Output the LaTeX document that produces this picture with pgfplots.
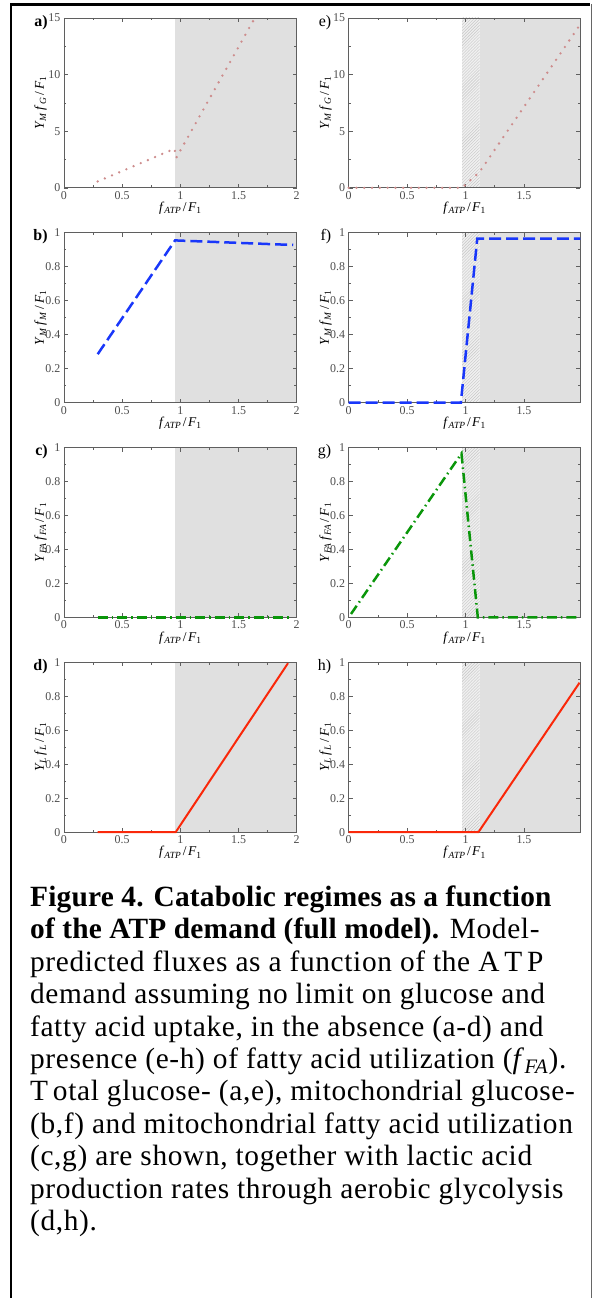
\documentclass[border=0pt]{standalone}
\usepackage{pgfplots}
\pgfplotsset{compat=1.18}
\usetikzlibrary{patterns}
\usepackage{fontspec}
\setmainfont{Liberation Serif}
\newfontfamily\capfont[LetterSpace=2.2]{Liberation Serif}
\newcommand{\bfcap}[1]{{\addfontfeatures{LetterSpace=0.7}\bfseries #1}}

\definecolor{shade}{RGB}{224,224,224}
\definecolor{hatchbg}{RGB}{240,240,240}
\definecolor{dotred}{RGB}{205,140,140}
\definecolor{dashblue}{RGB}{25,55,250}
\definecolor{ddgreen}{RGB}{10,150,10}
\definecolor{solidred}{RGB}{250,40,10}
\definecolor{axgray}{RGB}{95,95,95}

\newcommand{\ylab}[4]{\textit{#1}\textsubscript{\textit{#2}}\,\textit{#3}\textsubscript{\textit{#4}}\,/\,\textit{F}\textsubscript{1}}
\newcommand{\xlab}{\textit{f}\textsubscript{\textit{ATP}}\kern1.5pt/\kern1.5pt\textit{F}\textsubscript{1}}

\tikzset{
  tagL/.style={anchor=east, font=\fontsize{16}{16}\selectfont\bfseries},
  tagR/.style={anchor=east, font=\fontsize{16}{16}\selectfont},
}

\pgfplotsset{
  panel/.style={
    set layers, scale only axis, height=170bp, anchor=south west,
    xmin=0, ymin=0, ymax=1,
    ytick={0,0.2,0.4,0.6,0.8,1},
    minor x tick num=1, minor y tick num=1,
    tick align=inside, major tick length=4bp, minor tick length=2.5bp,
    axis line style={axgray, line width=0.7bp},
    every tick/.style={axgray, line width=0.6bp},
    tick label style={font=\fontsize{12}{12}\selectfont, text=black!70},
    /pgf/number format/assume math mode=true,
    xlabel={\xlab},
    every axis x label/.style={at={(axis description cs:0.5,-0.12)}, anchor=center,
      font=\fontsize{13.5}{13.5}\selectfont},
    every axis y label/.style={at={(axis description cs:-0.1,0.5)}, anchor=center,
      rotate=90, font=\fontsize{13.5}{13.5}\selectfont},
    clip=false,
  },
  leftpanel/.style={panel, width=233bp, xmax=2, xtick={0,0.5,1,1.5,2}},
  rightpanel/.style={panel, width=232bp, xmax=1.983, xtick={0,0.5,1,1.5}},
  bg/.style={on layer=axis background, draw=none},
  dotline/.style={dotred, line width=2.6bp, line cap=round, dash pattern=on 0bp off 7.8bp},
  dashline/.style={dashblue, line width=2.5bp, dash pattern=on 12bp off 5bp},
  ddline/.style={ddgreen, line width=2.5bp, dash pattern=on 10bp off 4bp on 1.5bp off 4bp},
  solidline/.style={solidred, line width=2bp},
}

\begin{document}
\begin{tikzpicture}
\path (0,0) rectangle (596bp,1299bp);
% frame
\draw[black, line width=2.5bp] (11bp,0bp) -- (11bp,1294.5bp) -- (591bp,1294.5bp);
\draw[black!60, line width=1.2bp] (592bp,1295bp) -- (592bp,0bp);

% ---- left column (without fatty acids) ----
\begin{axis}[leftpanel, at={(64bp,1111bp)}, ymax=15, ytick={0,5,10,15}, ylabel={\ylab{Y}{M}{f}{G}}]
\addplot[bg, fill=shade] coordinates {(0.955,15) (2,15)} \closedcycle;
\addplot[dotline] coordinates {(0.29,0.56) (0.95,3.45) (0.965,2.65) (1.64,15)};
\node[tagL] at (rel axis cs:-0.055,0.975) {a)};
\end{axis}

\begin{axis}[leftpanel, at={(64bp,896bp)}, ylabel={\ylab{Y}{M}{f}{M}}]
\addplot[bg, fill=shade] coordinates {(0.955,1) (2,1)} \closedcycle;
\addplot[dashline] coordinates {(0.29,0.285) (0.955,0.955) (1.97,0.928)};
\node[tagL] at (rel axis cs:-0.055,0.975) {b)};
\end{axis}

\begin{axis}[leftpanel, at={(64bp,681bp)}, ylabel={\ylab{Y}{FA}{f}{FA}}]
\addplot[bg, fill=shade] coordinates {(0.955,1) (2,1)} \closedcycle;
\addplot[ddline] coordinates {(0.29,0) (1.93,0)};
\node[tagL] at (rel axis cs:-0.055,0.975) {c)};
\end{axis}

\begin{axis}[leftpanel, at={(64bp,466bp)}, ylabel={\ylab{Y}{L}{f}{L}}]
\addplot[bg, fill=shade] coordinates {(0.955,1) (2,1)} \closedcycle;
\addplot[solidline] coordinates {(0.29,0) (0.96,0) (1.925,0.995)};
\node[tagL] at (rel axis cs:-0.055,0.975) {d)};
\end{axis}

% ---- right column (with fatty acids) ----
\begin{axis}[rightpanel, at={(349bp,1111bp)}, ymax=15, ytick={0,5,10,15}, ylabel={\ylab{Y}{M}{f}{G}}]
\addplot[bg, fill=hatchbg] coordinates {(0.97,15) (1.12,15)} \closedcycle;
\addplot[bg, pattern=north east lines, pattern color=black!22] coordinates {(0.97,15) (1.12,15)} \closedcycle;
\addplot[bg, fill=shade] coordinates {(1.12,15) (1.983,15)} \closedcycle;
\addplot[dotline] coordinates {(0,0) (0.97,0) (1.12,1.4) (1.968,14.23)};
\node[tagR] at (rel axis cs:-0.06,0.975) {e)};
\end{axis}

\begin{axis}[rightpanel, at={(349bp,896bp)}, ylabel={\ylab{Y}{M}{f}{M}}]
\addplot[bg, fill=hatchbg] coordinates {(0.97,1) (1.12,1)} \closedcycle;
\addplot[bg, pattern=north east lines, pattern color=black!22] coordinates {(0.97,1) (1.12,1)} \closedcycle;
\addplot[bg, fill=shade] coordinates {(1.12,1) (1.983,1)} \closedcycle;
\addplot[dashline] coordinates {(0,0) (0.96,0) (1.1,0.965) (1.983,0.965)};
\node[tagR] at (rel axis cs:-0.06,0.975) {f)};
\end{axis}

\begin{axis}[rightpanel, at={(349bp,681bp)}, ylabel={\ylab{Y}{FA}{f}{FA}}]
\addplot[bg, fill=hatchbg] coordinates {(0.97,1) (1.12,1)} \closedcycle;
\addplot[bg, pattern=north east lines, pattern color=black!22] coordinates {(0.97,1) (1.12,1)} \closedcycle;
\addplot[bg, fill=shade] coordinates {(1.12,1) (1.983,1)} \closedcycle;
\addplot[ddline] coordinates {(0.02,0.02) (0.965,0.965) (1.105,0) (1.98,0)};
\node[tagR] at (rel axis cs:-0.06,0.975) {g)};
\end{axis}

\begin{axis}[rightpanel, at={(349bp,466bp)}, ylabel={\ylab{Y}{L}{f}{L}}]
\addplot[bg, fill=hatchbg] coordinates {(0.97,1) (1.12,1)} \closedcycle;
\addplot[bg, pattern=north east lines, pattern color=black!22] coordinates {(0.97,1) (1.12,1)} \closedcycle;
\addplot[bg, fill=shade] coordinates {(1.12,1) (1.983,1)} \closedcycle;
\addplot[solidline] coordinates {(0,0) (1.11,0) (1.975,0.88)};
\node[tagR] at (rel axis cs:-0.06,0.975) {h)};
\end{axis}

% ---- caption ----
\begin{scope}[every node/.style={anchor=base west, inner sep=0pt, font=\capfont\fontsize{29.5}{31}\selectfont}]
\node at (30bp,392bp) {\bfcap{Figure 4. Catabolic regimes as a function}};
\node at (30bp,359.5bp) {\bfcap{of the ATP demand (full model).} Model-};
\node at (30bp,327bp) {predicted fluxes as a function of the A\,T\,P};
\node at (30bp,294.5bp) {demand assuming no limit on glucose and};
\node at (30bp,262bp) {fatty acid uptake, in the absence (a-d) and};
\node at (30bp,229.5bp) {presence (e-h) of fatty acid utilization (\textit{f}\textsubscript{\textit{FA}}).};
\node at (30bp,197bp) {T\,otal glucose- (a,e), mitochondrial glucose-};
\node at (30bp,164.5bp) {(b,f) and mitochondrial fatty acid utilization};
\node at (30bp,132bp) {(c,g) are shown, together with lactic acid};
\node at (30bp,99.5bp) {production rates through aerobic glycolysis};
\node at (30bp,67bp) {(d,h).};
\end{scope}
\end{tikzpicture}
\end{document}
